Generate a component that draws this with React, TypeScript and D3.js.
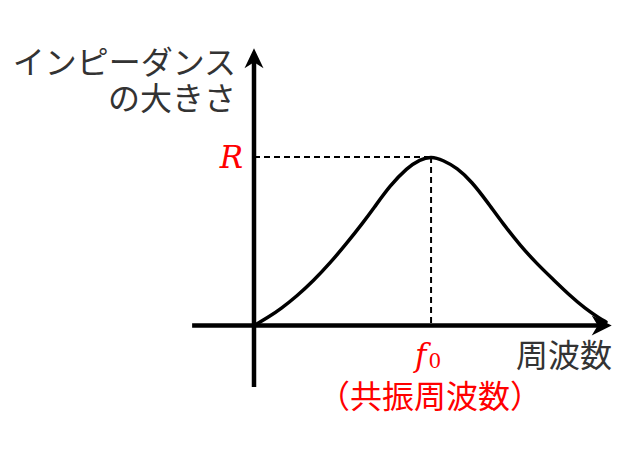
import React, { useEffect, useRef } from "react";
import * as d3 from "d3";

// frequency (arbitrary units) and impedance magnitude (% of R)
const freq = [
  0, 3.9, 7.7, 11.9, 16.6, 21.2, 25.9, 30.6, 33.4, 38, 42.8, 46.4, 49.5,
  52.8, 56.8, 60.9, 65.1, 69.7, 74.4, 79, 83.7, 88.3, 92.5, 96.7, 98.4,
];
const impedance = [
  0, 4.7, 10.2, 17.3, 26.5, 36.9, 48.7, 61.4, 69.4, 83, 93.6, 98.5, 100.4,
  98.2, 93.5, 85.3, 73.7, 60.1, 47.6, 36.8, 27.2, 17.8, 10.2, 4.1, 2.1,
];

const f0 = 49.5;
const R = 100;

const xExtent = [-17.3, 100];
const yExtent = [-36.5, 164.5];

const yLabelLines = ["インピーダンス", "の大きさ"];
const xLabel = "周波数";
const f0Note = "（共振周波数）";

const W = 626;
const H = 452;

const App: React.FC = () => {
  const ref = useRef<SVGSVGElement>(null);

  useEffect(() => {
    if (!ref.current) return;
    const svg = d3.select(ref.current);
    svg.selectAll("*").remove();

    const x = d3.scaleLinear().domain([0, 100]).range([254, 611.7]);
    const y = d3.scaleLinear().domain([0, 100]).range([325.5, 157]);

    const cjk = "'Noto Sans CJK JP', 'Noto Sans', sans-serif";
    const math = "'DejaVu Serif', 'Liberation Serif', serif";
    const grey = "#333333";

    // dashed guides
    svg.append("line")
      .attr("x1", x(0)).attr("x2", x(f0))
      .attr("y1", y(R)).attr("y2", y(R))
      .attr("stroke", "#000").attr("stroke-width", 2)
      .attr("stroke-dasharray", "6,4");
    svg.append("line")
      .attr("x1", x(f0)).attr("x2", x(f0))
      .attr("y1", y(R)).attr("y2", y(0))
      .attr("stroke", "#000").attr("stroke-width", 2)
      .attr("stroke-dasharray", "6,4");

    // curve
    const pts = freq.map((f, i) => [f, impedance[i]] as [number, number]);
    const line = d3.line<[number, number]>()
      .x((d) => x(d[0]))
      .y((d) => y(d[1]))
      .curve(d3.curveBasis);
    svg.append("path")
      .datum(pts)
      .attr("d", line)
      .attr("fill", "none")
      .attr("stroke", "#000")
      .attr("stroke-width", 3.5)
      .attr("stroke-linecap", "round")
      .attr("stroke-linejoin", "round");

    // axes
    const xTip = x(xExtent[1]);
    const yTip = y(yExtent[1]);
    svg.append("line")
      .attr("x1", x(xExtent[0])).attr("x2", xTip - 10)
      .attr("y1", y(0)).attr("y2", y(0))
      .attr("stroke", "#000").attr("stroke-width", 4.5);
    svg.append("line")
      .attr("x1", x(0)).attr("x2", x(0))
      .attr("y1", y(yExtent[0])).attr("y2", yTip + 10)
      .attr("stroke", "#000").attr("stroke-width", 4.5);

    // arrow heads
    const ax = xTip, ay = y(0);
    svg.append("path")
      .attr("d", `M${ax},${ay} L${ax - 20},${ay - 10} L${ax - 14},${ay} L${ax - 20},${ay + 10} Z`)
      .attr("fill", "#000");
    const bx = x(0), by = yTip;
    svg.append("path")
      .attr("d", `M${bx},${by} L${bx - 9.5},${by + 20} L${bx},${by + 14} L${bx + 9.5},${by + 20} Z`)
      .attr("fill", "#000");

    // y label
    yLabelLines.forEach((t, i) => {
      svg.append("text")
        .attr("x", 236).attr("y", 74 + i * 36)
        .attr("text-anchor", "end")
        .attr("font-family", cjk)
        .attr("font-size", 32)
        .attr("fill", grey)
        .text(t);
    });

    // x label
    svg.append("text")
      .attr("x", 612).attr("y", 367)
      .attr("text-anchor", "end")
      .attr("font-family", cjk)
      .attr("font-size", 32)
      .attr("fill", grey)
      .text(xLabel);

    // R
    svg.append("text")
      .attr("x", 243).attr("y", 168)
      .attr("text-anchor", "end")
      .attr("font-family", math)
      .attr("font-style", "italic")
      .attr("font-size", 31)
      .attr("fill", "#ff0000")
      .text("R");

    // f0
    const ft = svg.append("text")
      .attr("x", x(f0) - 16).attr("y", 366)
      .attr("font-family", math)
      .attr("fill", "#ff0000");
    ft.append("tspan").attr("font-style", "italic").attr("font-size", 31).text("f");
    ft.append("tspan").attr("font-size", 20).attr("dx", 2).attr("dy", 2).text("0");

    svg.append("text")
      .attr("x", x(f0) - 1).attr("y", 408)
      .attr("text-anchor", "middle")
      .attr("font-family", cjk)
      .attr("font-size", 32)
      .attr("fill", "#ff0000")
      .text(f0Note);
  }, []);

  return (
    <svg
      ref={ref}
      width={W}
      height={H}
      style={{ position: "absolute", left: 0, top: 0, background: "#fff" }}
    />
  );
};

export default App;
